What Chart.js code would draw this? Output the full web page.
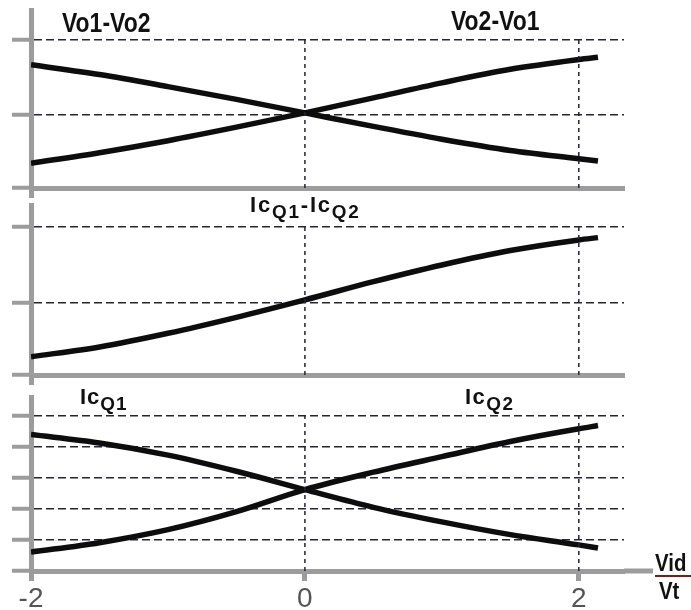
<!DOCTYPE html>
<html>
<head>
<meta charset="utf-8">
<script src="https://cdn.jsdelivr.net/npm/chart.js@4.4.1/dist/chart.umd.min.js"></script>
<style>
body { margin: 0; background: #fff; width: 691px; height: 610px; overflow: hidden; position: relative;
       font-family: "Liberation Sans", Arial, sans-serif; }
.pane { position: absolute; left: 0; width: 691px; }
.lbl { position: absolute; font-weight: bold; color: #111; line-height: 1; white-space: nowrap; transform-origin: 0 0; }
.lbl sub { font-size: 0.86em; vertical-align: -0.32em; line-height: 0; }
.narrow { transform: scaleX(0.85); }
.bar { position: absolute; height: 0; border-top: 2px solid #7a1a1a; }
</style>
</head>
<body>

<div class="pane" style="top:0;height:200px"><canvas id="p1"></canvas></div>
<div class="pane" style="top:195px;height:200px"><canvas id="p2"></canvas></div>
<div class="pane" style="top:387px;height:223px"><canvas id="p3"></canvas></div>

<div class="lbl narrow" style="left:62px;top:10px;font-size:27px">Vo1-Vo2</div>
<div class="lbl narrow" style="left:451px;top:8px;font-size:27px">Vo2-Vo1</div>
<div class="lbl" style="left:250px;top:194px;font-size:22px;letter-spacing:1.8px">Ic<sub>Q1</sub>-Ic<sub>Q2</sub></div>
<div class="lbl" style="left:80px;top:386px;font-size:22px;letter-spacing:1px">Ic<sub>Q1</sub></div>
<div class="lbl" style="left:465px;top:386px;font-size:22px;letter-spacing:1.5px">Ic<sub>Q2</sub></div>
<div class="lbl narrow" style="left:655px;top:551px;font-size:24px">Vid</div>
<div class="bar" style="left:655px;top:575px;width:36px"></div>
<div class="lbl narrow" style="left:659px;top:579px;font-size:24px">Vt</div>

<script>
// x = Vid / Vt
var xVals = [-2, -1.5, -1, -0.5, 0, 0.5, 1, 1.5, 2, 2.14];

// top panel
var vo1MinusVo2 = [0.67, 0.54, 0.38, 0.21, 0.03, -0.15, -0.32, -0.47, -0.58, -0.61];
var vo2MinusVo1 = [-0.64, -0.50, -0.34, -0.16, 0.03, 0.23, 0.43, 0.61, 0.74, 0.77];
// middle panel
var icQ1MinusIcQ2 = [-0.71, -0.58, -0.40, -0.19, 0.04, 0.28, 0.50, 0.69, 0.83, 0.86];
// bottom panel
var icQ1 = [4.39, 4.12, 3.73, 3.21, 2.62, 2.05, 1.58, 1.17, 0.84, 0.74];
var icQ2 = [0.61, 0.91, 1.33, 1.91, 2.62, 3.18, 3.68, 4.17, 4.58, 4.68];

var xTicks = [-2, 0, 2];
var guideX = [0, 2];
var yTicks1 = [0, 1];
var yTicks2 = [0, 1];
var yTicks3 = [1, 2, 3, 4, 5];

var axisGray = '#9c9c9c';
var dashColor = '#24243a';

function pts(ys) {
    return xVals.map(function(x, i) { return { x: x, y: ys[i] }; });
}

function curve(ys) {
    return { data: pts(ys), borderColor: '#0d0d0d', borderWidth: 5.5, pointRadius: 0,
             cubicInterpolationMode: 'monotone', fill: false, borderCapStyle: 'butt' };
}

function guides(yMin, yTop) {
    return guideX.map(function(g) {
        return { data: [{ x: g, y: yMin }, { x: g, y: yTop }], borderColor: dashColor,
                 borderWidth: 1.5, borderDash: [4, 4], pointRadius: 0, fill: false };
    });
}

// extends the bottom axis line out toward the Vid/Vt label
var axisTail = {
    id: 'axisTail',
    afterDraw: function(chart, args, opts) {
        if (!opts.length) return;
        var c = chart.ctx, a = chart.chartArea;
        c.save();
        c.strokeStyle = axisGray;
        c.lineWidth = 5;
        c.beginPath();
        c.moveTo(a.right, a.bottom);
        c.lineTo(a.right + opts.length, a.bottom);
        c.stroke();
        c.restore();
    }
};

function makePanel(id, h, bottom, yMin, yMax, yTicks, series, showX, tail) {
    var allY = [yMin].concat(yTicks);
    var yTop = yTicks[yTicks.length - 1];
    return new Chart(document.getElementById(id), {
        type: 'line',
        data: { datasets: guides(yMin, yTop).concat(series.map(curve)) },
        plugins: [axisTail],
        options: {
            responsive: true,
            maintainAspectRatio: false,
            animation: false,
            events: [],
            layout: { padding: { top: 10, right: 67, left: 0, bottom: 0 } },
            plugins: { legend: { display: false }, tooltip: { enabled: false }, axisTail: { length: tail } },
            scales: {
                x: {
                    type: 'linear', min: -2, max: 2.33,
                    afterBuildTicks: function(s) {
                        s.ticks = (showX ? xTicks : [-2]).map(function(v) { return { value: v }; });
                    },
                    afterFit: function(s) { s.height = h - bottom; },
                    border: { color: axisGray, width: 5 },
                    grid: { drawOnChartArea: false, drawTicks: true, tickLength: 10, tickWidth: 5, tickColor: axisGray },
                    ticks: {
                        display: showX, padding: 1, color: '#555',
                        font: { family: '"Liberation Sans", sans-serif', size: 28 },
                        callback: function(v) { return v; }
                    }
                },
                y: {
                    min: yMin, max: yMax,
                    afterBuildTicks: function(s) {
                        s.ticks = allY.map(function(v) { return { value: v }; });
                    },
                    afterFit: function(s) { s.width = 31; },
                    // border.dash styles the grid lines in v4
                    border: { color: axisGray, width: 5, dash: [8, 4] },
                    grid: {
                        color: function(ctx) { return ctx.tick && ctx.tick.value === yMin ? 'rgba(0,0,0,0)' : dashColor; },
                        lineWidth: 1.5,
                        drawTicks: true, tickLength: 19, tickWidth: 4, tickColor: axisGray, tickBorderDash: []
                    },
                    ticks: { display: false }
                }
            }
        }
    });
}

makePanel('p1', 200, 188, -0.97, 1.4, yTicks1, [vo1MinusVo2, vo2MinusVo1], false, 0);
makePanel('p2', 200, 180, -0.95, 1.29, yTicks2, [icQ1MinusIcQ2], false, 0);
makePanel('p3', 223, 184, 0, 5.6, yTicks3, [icQ1, icQ2], true, 29);
</script>
</body>
</html>
